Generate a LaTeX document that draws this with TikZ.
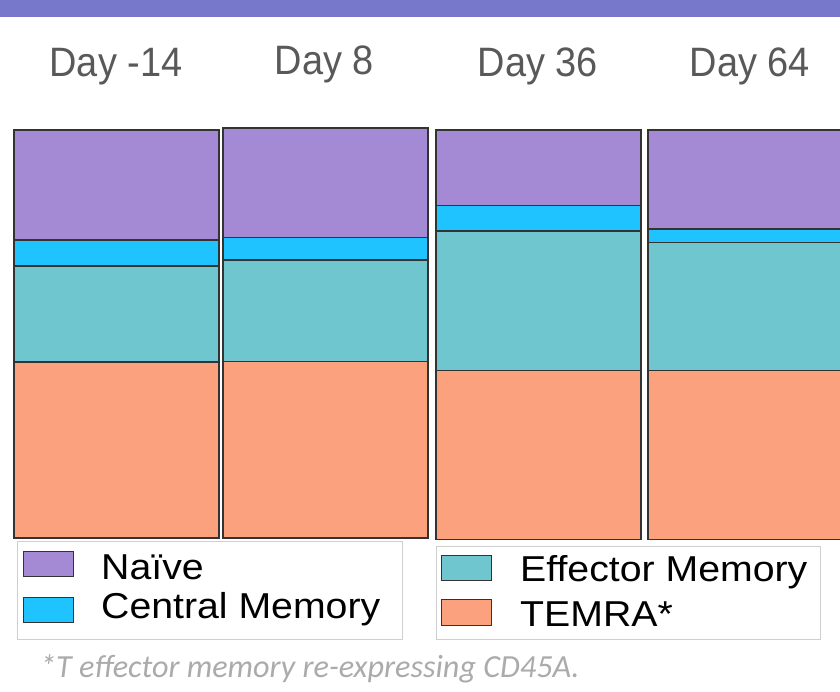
\documentclass[tikz,border=0pt]{standalone}
\usepackage{fontspec}
\usepackage{graphicx}
\setmainfont{Liberation Sans}
\newfontfamily\notefont{Carlito}
\definecolor{topbar}{HTML}{7777CC}
\definecolor{naive}{HTML}{A48AD4}
\definecolor{centralm}{HTML}{1FC3FF}
\definecolor{effm}{HTML}{6FC6CE}
\definecolor{temra}{HTML}{FBA17E}
\definecolor{edge}{HTML}{333333}
\definecolor{daygray}{HTML}{595959}
\definecolor{notegray}{HTML}{ABABAB}
\definecolor{legbox}{HTML}{CFCFCF}
\newcommand{\wide}[1]{\scalebox{1.09}[1]{#1}}
\newcommand{\tall}[1]{\scalebox{0.96}[1.04]{#1}}
\begin{document}
\begin{tikzpicture}[x=1pt,y=-1pt,
  seg/.style={draw=edge,line width=1.1pt},
  legframe/.style={draw=legbox,line width=0.8pt,fill=white},
  swatch/.style={draw=edge,line width=1pt},
  daylabel/.style={anchor=base,font=\fontsize{39.5}{41}\selectfont,text=daygray,inner sep=0pt},
  legtext/.style={anchor=base west,font=\fontsize{36}{38}\selectfont,text=black,inner sep=0pt},
  note/.style={anchor=base west,font=\notefont\itshape\fontsize{32.2}{34}\selectfont,text=notegray,inner sep=0pt}]
\useasboundingbox (0,0) rectangle (840,691);
\fill[white] (0,0) rectangle (840,691);
\fill[topbar] (0,0) rectangle (840,16.5);
% day labels
\node[daylabel] (d1) at (116,76) {\tall{Day -14}};
\node[daylabel] (d2) at (324.5,74) {\tall{Day 8}};
\node[daylabel] (d3) at (538,76) {\tall{Day 36}};
\node[daylabel] (d4) at (750,76) {\tall{Day 64}};
% bar 1
\draw[seg,fill=naive] (14,130) rectangle (219,240);
\draw[seg,fill=centralm] (14,240) rectangle (219,266);
\draw[seg,fill=effm] (14,266) rectangle (219,362);
\draw[seg,fill=temra] (14,362) rectangle (219,538);
% bar 2
\draw[seg,fill=naive] (223,128) rectangle (428,237.5);
\draw[seg,fill=centralm] (223,237.5) rectangle (428,260);
\draw[seg,fill=effm] (223,260) rectangle (428,361.5);
\draw[seg,fill=temra] (223,361.5) rectangle (428,538);
% bar 3
\draw[seg,fill=naive] (436,130) rectangle (641,205.5);
\draw[seg,fill=centralm] (436,205.5) rectangle (641,231);
\draw[seg,fill=effm] (436,231) rectangle (641,370.5);
\draw[seg,fill=temra] (436,370.5) rectangle (641,539.5);
% bar 4
\draw[seg,fill=naive] (648,130) rectangle (852,229);
\draw[seg,fill=centralm] (648,229) rectangle (852,242.5);
\draw[seg,fill=effm] (648,242.5) rectangle (852,370.5);
\draw[seg,fill=temra] (648,370.5) rectangle (852,539.5);
% legend left
\draw[legframe] (17,541.5) rectangle (402,639);
\draw[swatch,fill=naive] (23,551) rectangle (73,576);
\draw[swatch,fill=centralm] (23,597) rectangle (73,622);
\node[legtext] (ln) at (101,579) {\wide{Naïve}};
\node[legtext] (lc) at (101,618) {\wide{Central Memory}};
% legend right
\draw[legframe] (436,546.5) rectangle (820,639);
\draw[swatch,fill=effm] (441,555) rectangle (491.5,580);
\draw[swatch,fill=temra] (441,599.5) rectangle (491.5,625);
\node[legtext] (le) at (520,581.5) {\wide{Effector Memory}};
\node[legtext] (lt) at (520,626.5) {\wide{TEMRA*}};
% footnote
\node[note] (fn) at (40,677) {*T effector memory re-expressing CD45A.};
\end{tikzpicture}
\end{document}
